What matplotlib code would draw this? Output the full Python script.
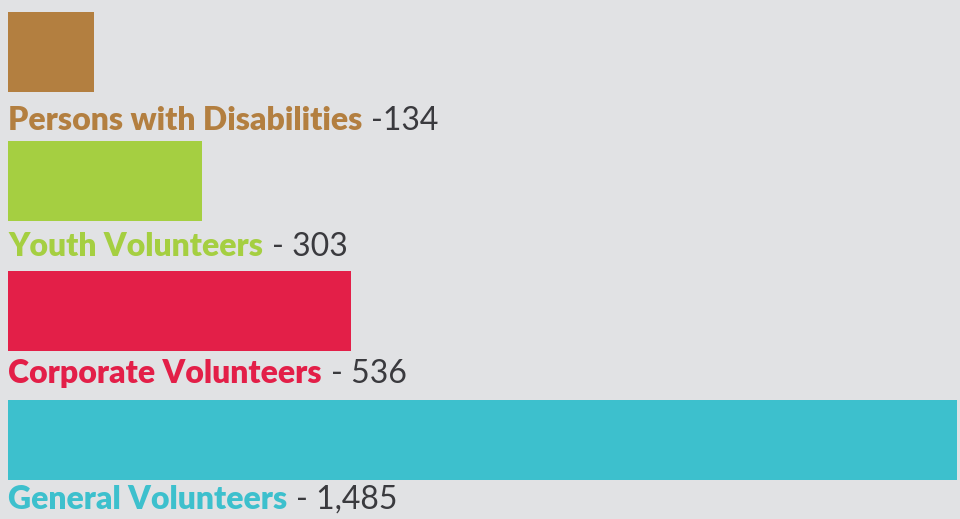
import numpy as np
import matplotlib.pyplot as plt
import matplotlib.transforms as mtransforms

# volunteer groups, top to bottom
groups = ["Persons with Disabilities", "Youth Volunteers", "Corporate Volunteers", "General Volunteers"]
counts = [134, 303, 536, 1485]
value_labels = ["-134", "- 303", "- 536", "- 1,485"]
colors = ["#b37f40", "#a5cf41", "#e31f48", "#3dc0cd"]

bg = "#e1e2e4"
fig = plt.figure(figsize=(9.6, 5.19), dpi=100, facecolor=bg)
ax = fig.add_axes([0, 0, 1, 1], facecolor=bg)

index = np.arange(len(groups))
ax.barh(index, counts, height=0.62, color=colors, align="center")

# pixel mapping: bars start at x=8px, longest bar ends at 957px
s = counts[-1] / 949.0
ax.set_xlim(-8 * s, (960 - 8) * s)
# bar centres at 52px + 129.3px * i from the top
step = 129.3
ax.set_ylim((519 - 52) / step, -52 / step)
ax.axis("off")

fig.canvas.draw()
renderer = fig.canvas.get_renderer()
for i in index:
    # label baselines sit at 130px + 126.3px * i
    y = (130 + 126.3 * i - 52) / step
    t = ax.text(0, y, groups[i], color=colors[i], fontsize=23, fontweight="heavy",
                family="Lato", va="baseline", ha="left")
    bb = t.get_window_extent(renderer)
    off = mtransforms.offset_copy(ax.transData, fig=fig, x=bb.width + 9, y=0, units="dots")
    ax.text(0, y, value_labels[i], color="#3a3a3e", fontsize=23, fontweight="normal",
            family="Lato", va="baseline", ha="left", transform=off)

fig.savefig("out.png", dpi=100, facecolor=bg)
